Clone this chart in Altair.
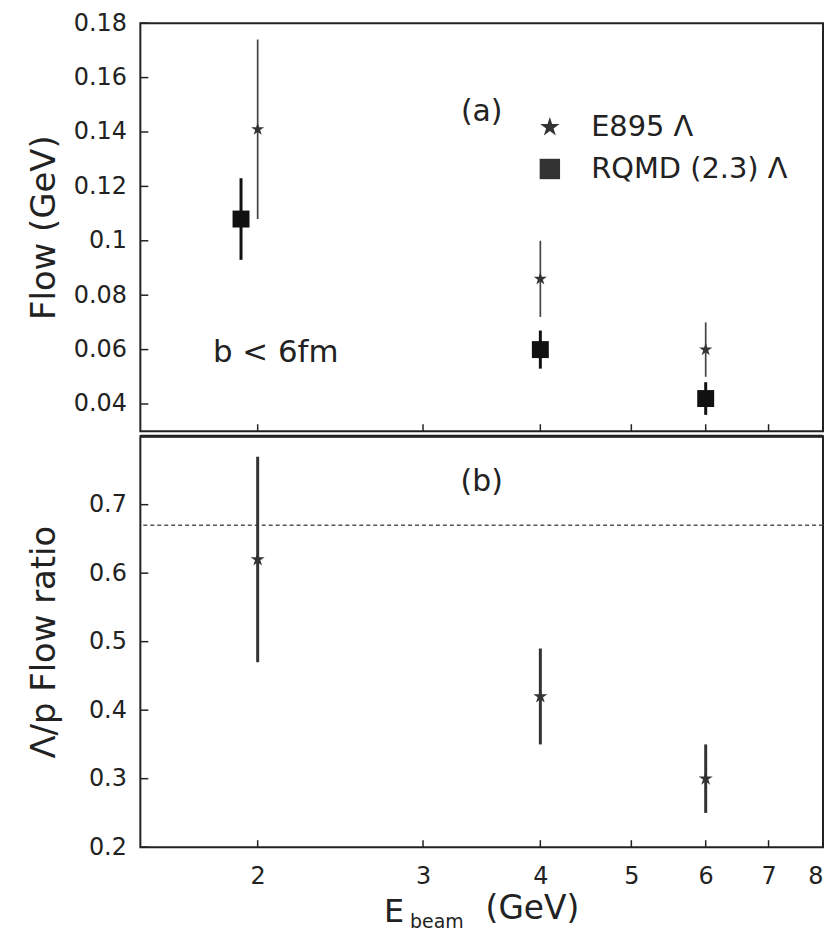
import altair as alt
import pandas as pd

# ---------------- data ----------------
series_names = ["E895 Λ", "RQMD (2.3) Λ"]

e895_energy = [2, 4, 6]
e895_flow = [0.141, 0.086, 0.060]
e895_err = [0.033, 0.014, 0.010]

rqmd_energy = [1.92, 4, 6]
rqmd_flow = [0.108, 0.060, 0.042]
rqmd_err = [0.015, 0.007, 0.006]

ratio_energy = [2, 4, 6]
ratio_val = [0.62, 0.42, 0.30]
ratio_err = [0.15, 0.07, 0.05]
ratio_ref = [0.67]

x_ticks = [2, 3, 4, 5, 6, 7, 8]
flow_ticks = [0.04, 0.06, 0.08, 0.10, 0.12, 0.14, 0.16, 0.18]
ratio_ticks = [0.2, 0.3, 0.4, 0.5, 0.6, 0.7]

# ---------------- tables ----------------
def errtable(e, v, err, name):
    return pd.DataFrame({
        "E": e, "v": v,
        "lo": [a - b for a, b in zip(v, err)],
        "hi": [a + b for a, b in zip(v, err)],
        "series": name,
    })

e895 = errtable(e895_energy, e895_flow, e895_err, series_names[0])
rqmd = errtable(rqmd_energy, rqmd_flow, rqmd_err, series_names[1])
ratio = errtable(ratio_energy, ratio_val, ratio_err, series_names[0])
xt = pd.DataFrame({"t": x_ticks})
ft = pd.DataFrame({"t": flow_ticks})
rt = pd.DataFrame({"t": ratio_ticks})
rref = pd.DataFrame({"r": ratio_ref})
one = pd.DataFrame({"k": [0]})

# ---------------- styling ----------------
FONT = "DejaVu Sans"
INK = "#222222"
W = 686
H1 = 410
H2 = 413
STAR = ("M0,-1L0.224,-0.309L0.951,-0.309L0.363,0.118L0.588,0.809L0,0.382"
        "L-0.588,0.809L-0.363,0.118L-0.951,-0.309L-0.224,-0.309Z")

xscale = alt.Scale(type="log", domain=[1.5, 8], nice=False)
yflow = alt.Scale(domain=[0.03, 0.18], nice=False, zero=False)
yratio = alt.Scale(domain=[0.2, 0.8], nice=False, zero=False)
shape_scale = alt.Scale(domain=series_names, range=[STAR, "square"])

yaxis_top = alt.Axis(values=flow_ticks, format="~g", ticks=False, domain=False,
                     grid=False, labelPadding=14, labelFontSize=24,
                     title="Flow (GeV)", titleFontSize=34, titleX=-96,
                     titleBaseline="middle")
yaxis_bot = alt.Axis(values=ratio_ticks, format="~g", ticks=False, domain=False,
                     grid=False, labelPadding=14, labelFontSize=24,
                     title="Λ/p Flow ratio", titleFontSize=34, titleX=-96,
                     titleBaseline="middle")
xaxis_bot = alt.Axis(values=x_ticks, format="~g", ticks=False, domain=False,
                     grid=False, labelPadding=18, labelFontSize=24, title=None)


def X(field, axis=None):
    if axis is None:
        return alt.X(field, type="quantitative", scale=xscale, axis=None)
    return alt.X(field, type="quantitative", scale=xscale, axis=axis)


def YT(field):
    return alt.Y(field, type="quantitative", scale=yflow, axis=yaxis_top)


def YB(field):
    return alt.Y(field, type="quantitative", scale=yratio, axis=yaxis_bot)


def label(text, size, px, py):
    return alt.Chart(one).mark_text(text=text, font=FONT, fontSize=size,
                                    color=INK).encode(x=alt.value(px), y=alt.value(py))


# ---------------- top panel ----------------
t_err_e895 = alt.Chart(e895).mark_rule(color="#444444", strokeWidth=1.7).encode(
    x=X("E"), y=YT("lo"), y2="hi")
t_err_rqmd = alt.Chart(rqmd).mark_rule(color="#111111", strokeWidth=3).encode(
    x=X("E"), y=YT("lo"), y2="hi")
legend = alt.Legend(title=None, orient="none", legendX=397, legendY=90,
                    labelFontSize=29, labelFont=FONT, labelColor=INK, labelLimit=400,
                    symbolSize=420, symbolFillColor="#111111",
                    symbolStrokeColor="#111111", symbolStrokeWidth=0,
                    labelOffset=27, rowPadding=12, padding=0)
t_pt_e895 = alt.Chart(e895).mark_point(filled=True, color="#333333", opacity=1,
                                        size=190).encode(
    x=X("E"), y=YT("v"),
    shape=alt.Shape("series:N", scale=shape_scale, legend=legend))
t_pt_rqmd = alt.Chart(rqmd).mark_point(filled=True, color="#111111", opacity=1,
                                        size=290).encode(
    x=X("E"), y=YT("v"),
    shape=alt.Shape("series:N", scale=shape_scale, legend=legend))
t_xticks = alt.Chart(xt).mark_rule(color=INK, strokeWidth=1.5).encode(
    x=X("t"), y=alt.value(H1), y2=alt.value(H1 - 7))
t_yticks = alt.Chart(ft).mark_rule(color=INK, strokeWidth=1.5).encode(
    y=YT("t"), x=alt.value(0), x2=alt.value(8))

top = alt.layer(t_yticks, t_xticks, t_err_e895, t_err_rqmd, t_pt_e895, t_pt_rqmd,
                label("(a)", 30, 343, 89),
                label("b < 6fm", 31, 136, 331)).properties(width=W, height=H1)

# ---------------- bottom panel ----------------
b_ref = alt.Chart(rref).mark_rule(color="#555555", strokeWidth=1.5,
                                  strokeDash=[4, 3]).encode(y=YB("r"))
b_err = alt.Chart(ratio).mark_rule(color="#333333", strokeWidth=3).encode(
    x=X("E", xaxis_bot), y=YB("lo"), y2="hi")
b_pt = alt.Chart(ratio).mark_point(filled=True, color="#333333", opacity=1,
                                   size=220, shape=STAR).encode(
    x=X("E", xaxis_bot), y=YB("v"))
b_xticks = alt.Chart(xt).mark_rule(color=INK, strokeWidth=1.5).encode(
    x=X("t", xaxis_bot), y=alt.value(H2), y2=alt.value(H2 - 7))
b_yticks = alt.Chart(rt).mark_rule(color=INK, strokeWidth=1.5).encode(
    y=YB("t"), x=alt.value(0), x2=alt.value(8))
b_div = alt.Chart(one).mark_rule(color=INK, strokeWidth=3).encode(
    x=alt.value(0), x2=alt.value(W), y=alt.value(0))

bottom = alt.layer(b_yticks, b_xticks, b_ref, b_err, b_pt, b_div,
                   label("(b)", 30, 343, 46),
                   label("E", 32, 255, H2 + 65),
                   label("beam", 19, 298, H2 + 75),
                   label("(GeV)", 33, 394, H2 + 62)).properties(width=W, height=H2)

chart = alt.vconcat(top, bottom, spacing=0).properties(
    padding={"left": 19, "top": 0, "right": 0, "bottom": 0}
).configure_view(stroke=INK, strokeWidth=2).configure_axis(
    labelFont=FONT, titleFont=FONT, labelColor=INK, titleColor=INK,
    titleFontWeight="normal", grid=False
)

chart.save("out.html", embed_options={"renderer": "svg", "actions": False})
